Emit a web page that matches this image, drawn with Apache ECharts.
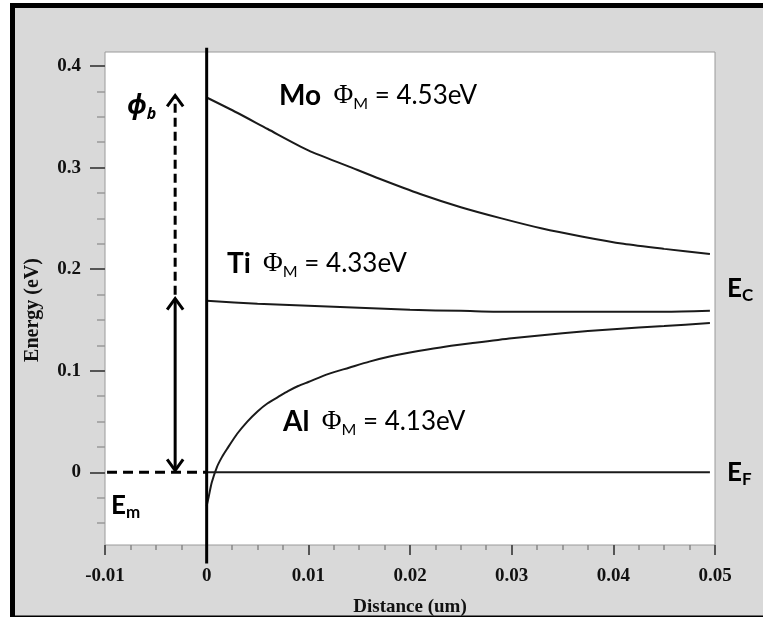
<!DOCTYPE html>
<html>
<head>
<meta charset="utf-8">
<script src="https://cdn.jsdelivr.net/npm/echarts@6/dist/echarts.min.js"></script>
<style>
  html, body { margin: 0; padding: 0; background: #ffffff; }
  #chart { width: 763px; height: 619px; }
</style>
</head>
<body>
<div id="chart"></div>
<script>
// Axis ticks
const xTicks = [-0.01, 0, 0.01, 0.02, 0.03, 0.04, 0.05];
const xMinorTicks = [-0.0075, -0.005, -0.0025, 0.0025, 0.005, 0.0075, 0.0125, 0.015, 0.0175,
  0.0225, 0.025, 0.0275, 0.0325, 0.035, 0.0375, 0.0425, 0.045, 0.0475];
const yTicks = [0, 0.1, 0.2, 0.3, 0.4];
const yMinorTicks = [-0.05, -0.025, 0.025, 0.05, 0.075, 0.125, 0.15, 0.175, 0.225, 0.25, 0.275,
  0.325, 0.35, 0.375];

// Conduction band edge (eV) vs distance (um) for each metal contact
const moX = [0, 0.003, 0.006, 0.01, 0.014, 0.017, 0.021, 0.025, 0.029, 0.033, 0.037, 0.041, 0.045, 0.0495];
const moY = [0.369, 0.354, 0.338, 0.317, 0.301, 0.289, 0.274, 0.261, 0.250, 0.240, 0.232, 0.225, 0.220, 0.215];

const tiX = [0, 0.005, 0.01, 0.015, 0.02, 0.025, 0.03, 0.035, 0.04, 0.045, 0.0495];
const tiY = [0.169, 0.166, 0.164, 0.162, 0.160, 0.159, 0.158, 0.158, 0.158, 0.158, 0.159];

const alX = [0, 0.0002, 0.0005, 0.001, 0.0015, 0.002, 0.003, 0.004, 0.005, 0.006, 0.007, 0.008, 0.009,
  0.01, 0.012, 0.014, 0.016, 0.018, 0.02, 0.023, 0.026, 0.03, 0.035, 0.04, 0.045, 0.0495];
const alY = [-0.033, -0.024, -0.010, 0.005, 0.015, 0.023, 0.038, 0.050, 0.060, 0.068, 0.074, 0.080, 0.085,
  0.089, 0.097, 0.103, 0.109, 0.114, 0.118, 0.123, 0.127, 0.132, 0.137, 0.141, 0.144, 0.147];

// Fermi level
const efX = [0, 0.0495];
const efY = [0, 0];

// Metal / semiconductor interface and metal Fermi level
const interfaceX = [0, 0];
const interfaceY = [0.418, -0.0897];
const emX = [-0.0098, 0];
const emY = [0, 0];

// Barrier arrows (lower end, upper end)
const arrowX = -0.0031;
const arrowSolid = [0.002, 0.171];
const arrowDashed = [0.171, 0.371];

const zip = (xs, ys) => xs.map((x, i) => [x, ys[i]]);

const serifBold = { fontFamily: 'Liberation Serif', fontWeight: 'bold', color: '#111' };

const chart = echarts.init(document.getElementById('chart'), null, { renderer: 'canvas' });

const curveStyle = { color: '#1a1a1a', width: 2 };
const hiddenLine = { show: false, onZero: false };

chart.setOption({
  backgroundColor: '#d9d9d9',
  animation: false,
  grid: {
    left: 105, right: 48, top: 52, bottom: 74,
    show: true, backgroundColor: '#ffffff', borderColor: '#9a9a9a', borderWidth: 1
  },
  xAxis: [
    {
      type: 'value', min: -0.01, max: 0.05, position: 'bottom',
      axisLine: hiddenLine,
      splitLine: { show: false },
      axisTick: { show: true, customValues: xTicks, length: 10, lineStyle: { color: '#555', width: 2 } },
      axisLabel: Object.assign({ customValues: xTicks, fontSize: 19, margin: 22 }, serifBold)
    },
    {
      type: 'value', min: -0.01, max: 0.05, position: 'bottom',
      axisLine: hiddenLine,
      splitLine: { show: false },
      axisTick: { show: true, customValues: xMinorTicks, length: 5, lineStyle: { color: '#888', width: 1.5 } },
      axisLabel: { show: false }
    }
  ],
  yAxis: [
    {
      type: 'value', min: -0.0715, max: 0.4138, position: 'left',
      axisLine: hiddenLine,
      splitLine: { show: false },
      axisTick: { show: true, customValues: yTicks, length: 15, lineStyle: { color: '#555', width: 2 } },
      axisLabel: Object.assign({ customValues: yTicks, fontSize: 19, margin: 24 }, serifBold)
    },
    {
      type: 'value', min: -0.0715, max: 0.4138, position: 'left',
      axisLine: hiddenLine,
      splitLine: { show: false },
      axisTick: { show: true, customValues: yMinorTicks, length: 8, lineStyle: { color: '#999', width: 1.5 } },
      axisLabel: { show: false }
    }
  ],
  series: [
    { type: 'line', data: zip(moX, moY), smooth: 0.25, symbol: 'none', lineStyle: curveStyle },
    { type: 'line', data: zip(tiX, tiY), smooth: 0.25, symbol: 'none', lineStyle: curveStyle },
    { type: 'line', data: zip(alX, alY), smooth: 0.25, symbol: 'none', lineStyle: curveStyle },
    { type: 'line', data: zip(efX, efY), symbol: 'none', lineStyle: curveStyle },
    {
      type: 'line', data: zip(emX, emY), symbol: 'none', z: 4,
      lineStyle: { color: '#000', width: 3, type: [10, 6] }
    },
    {
      type: 'line', data: zip(interfaceX, interfaceY), symbol: 'none', clip: false, z: 5,
      lineStyle: { color: '#000', width: 3 }
    },
    {
      // barrier-height arrows: [x, lower, upper, dashed, heads at both ends]
      type: 'custom', z: 5, clip: false,
      data: [
        [arrowX, arrowSolid[0], arrowSolid[1], 0, 1],
        [arrowX, arrowDashed[0], arrowDashed[1], 1, 0]
      ],
      encode: { x: 0, y: [1, 2] },
      renderItem: function (params, api) {
        const lo = api.coord([api.value(0), api.value(1)]);
        const hi = api.coord([api.value(0), api.value(2)]);
        const dashed = api.value(3) === 1;
        const both = api.value(4) === 1;
        const hw = 8, hh = 11;
        const stroke = { stroke: '#000', lineWidth: 3, fill: null };
        const children = [
          {
            type: 'line',
            shape: { x1: lo[0], y1: dashed ? lo[1] - 4 : lo[1] - 1, x2: hi[0], y2: hi[1] + 1 },
            style: Object.assign({ lineDash: dashed ? [9, 5] : null }, stroke)
          },
          {
            type: 'polyline',
            shape: { points: [[hi[0] - hw, hi[1] + hh], [hi[0], hi[1]], [hi[0] + hw, hi[1] + hh]] },
            style: stroke
          }
        ];
        if (both) {
          children.push({
            type: 'polyline',
            shape: { points: [[lo[0] - hw, lo[1] - hh], [lo[0], lo[1]], [lo[0] + hw, lo[1] - hh]] },
            style: stroke
          });
        }
        return { type: 'group', children: children };
      }
    }
  ],
  graphic: [
    // outer frame
    { type: 'rect', shape: { x: 0, y: 0, width: 10, height: 619 }, style: { fill: '#ffffff' }, silent: true },
    { type: 'rect', shape: { x: 0, y: 0, width: 763, height: 3 }, style: { fill: '#ffffff' }, silent: true },
    { type: 'rect', shape: { x: 0, y: 617, width: 763, height: 2 }, style: { fill: '#ffffff' }, silent: true },
    { type: 'rect', shape: { x: 10, y: 3, width: 5, height: 614 }, style: { fill: '#000000' }, silent: true },
    { type: 'rect', shape: { x: 10, y: 3, width: 753, height: 5 }, style: { fill: '#000000' }, silent: true },
    { type: 'rect', shape: { x: 10, y: 615.5, width: 753, height: 1.5 }, style: { fill: '#000000' }, silent: true },
    // axis titles
    {
      type: 'text', x: 33, y: 310, rotation: Math.PI / 2,
      style: { text: 'Energy (eV)', fontFamily: 'Liberation Serif', fontWeight: 'bold', fontSize: 20,
        fill: '#111', align: 'center', verticalAlign: 'middle' }
    },
    {
      type: 'text', x: 410, y: 607,
      style: { text: 'Distance (um)', fontFamily: 'Liberation Serif', fontWeight: 'bold', fontSize: 19,
        fill: '#111', align: 'center', verticalAlign: 'middle' }
    },
    // work-function annotations
    ...[
      ['Mo', '4.53', 279, 96],
      ['Ti', '4.33', 227, 264],
      ['Al', '4.13', 283, 422]
    ].map(function (d) {
      return {
        type: 'text', x: d[2], y: d[3],
        style: {
          text: '{m|' + d[0] + '}{sp|  }{phi|Φ}{sub|M}{t| = ' + d[1] + 'eV}',
          align: 'left', verticalAlign: 'middle',
          rich: {
            m: { fontFamily: 'Lato', fontWeight: 'bold', fontSize: 28, lineHeight: 32, fill: '#000' },
            sp: { fontFamily: 'Lato', fontSize: 24, lineHeight: 32 },
            phi: { fontFamily: 'Liberation Serif', fontSize: 27, lineHeight: 32, fill: '#000' },
            sub: { fontFamily: 'Lato', fontSize: 16, lineHeight: 15, verticalAlign: 'bottom', fill: '#000' },
            t: { fontFamily: 'Lato', fontSize: 26, lineHeight: 32, fill: '#000' }
          }
        }
      };
    }),
    // band labels
    ...[
      ['E', 'C', 727, 289],
      ['E', 'F', 727, 473],
      ['E', 'm', 111, 506]
    ].map(function (d) {
      return {
        type: 'text', x: d[2], y: d[3],
        style: {
          text: '{e|' + d[0] + '}{s|' + d[1] + '}',
          align: 'left', verticalAlign: 'middle',
          rich: {
            e: { fontFamily: 'Lato', fontWeight: 'bold', fontSize: 26, lineHeight: 30, fill: '#000' },
            s: { fontFamily: 'Lato', fontWeight: 'bold', fontSize: 17, lineHeight: 14, verticalAlign: 'bottom', fill: '#000' }
          }
        }
      };
    }),
    {
      type: 'text', x: 127, y: 107,
      style: {
        text: '{p|ϕ}{s|b}',
        align: 'left', verticalAlign: 'middle',
        rich: {
          p: { fontFamily: 'Noto Sans', fontStyle: 'italic', fontWeight: 'bold', fontSize: 26, lineHeight: 30, fill: '#000' },
          s: { fontFamily: 'Noto Sans', fontStyle: 'italic', fontWeight: 'bold', fontSize: 16, lineHeight: 14, verticalAlign: 'bottom', fill: '#000' }
        }
      }
    }
  ]
});
</script>
</body>
</html>
